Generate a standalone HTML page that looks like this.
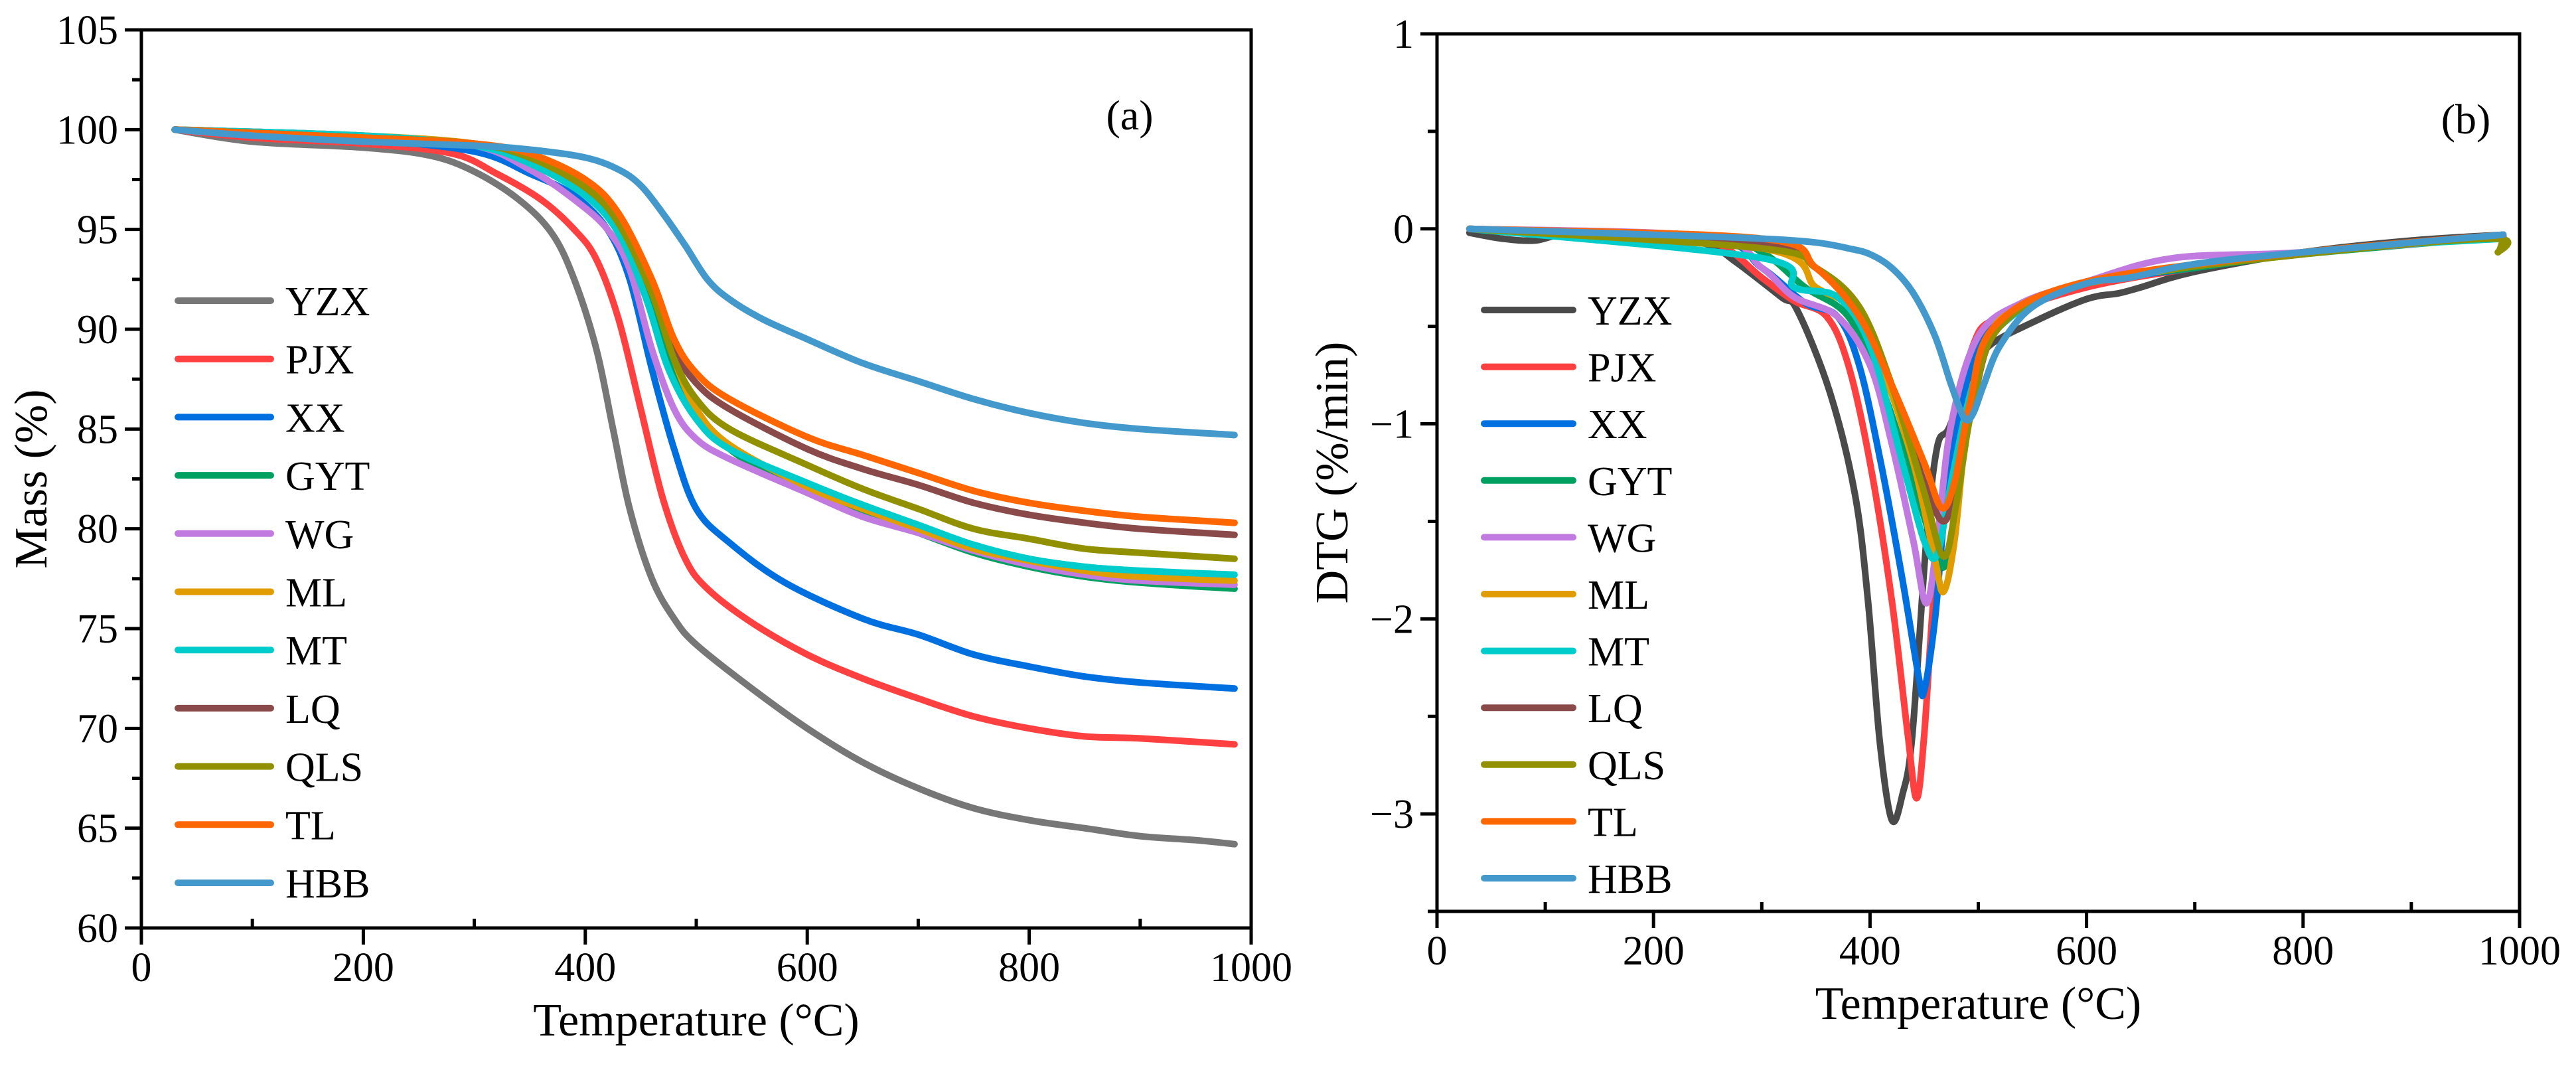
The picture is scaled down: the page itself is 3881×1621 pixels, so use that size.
<!DOCTYPE html>
<html><head><meta charset="utf-8"><style>
html,body{margin:0;padding:0;background:#fff;}
svg{display:block;font-family:"Liberation Serif",serif;}
</style></head><body>
<svg id="fig" width="3881" height="1621" viewBox="0 0 3881 1621" xmlns="http://www.w3.org/2000/svg"></svg>
<script>
const seriesNames = ["YZX","PJX","XX","GYT","WG","ML","MT","LQ","QLS","TL","HBB"];
const colorsA = ["#777777","#ff4040","#0070e0","#00a060","#c07ae0","#e09c00","#00cccc","#8b4a4a","#909000","#ff6600","#4499cc"];
const colorsB = ["#4a4a4a","#ff4040","#0070e0","#00a060","#c07ae0","#e09c00","#00cccc","#8b4a4a","#909000","#ff6600","#4499cc"];
const xTicks = [0,200,400,600,800,1000];
const yTicksA = [60,65,70,75,80,85,90,95,100,105];
const yTicksB = [-3,-2,-1,0,1];
// TGA temperatures / masses
const tgaT = [
[30,100,200,260,300,340,370,390,410,425,440,460,480,500,550,600,650,700,750,800,850,900,950,985],
[30,100,200,280,320,360,390,410,430,450,470,490,510,550,600,650,700,750,800,850,900,985],
[30,200,300,350,390,420,440,460,480,500,530,580,650,700,750,800,850,900,985],
[30,200,300,350,400,430,460,480,500,530,560,600,650,700,750,800,850,900,985],
[30,200,300,350,390,420,440,460,480,500,530,600,650,700,750,800,850,900,985],
[30,200,300,350,400,430,460,480,500,530,600,650,700,750,800,850,900,985],
[30,200,300,350,400,430,455,475,500,530,600,650,700,750,800,850,900,985],
[30,200,300,350,400,430,460,480,500,530,600,650,700,750,800,850,900,985],
[30,200,300,350,400,430,460,480,500,530,600,650,700,750,800,850,900,985],
[30,200,300,350,400,430,460,480,500,530,600,650,700,750,800,850,900,985],
[30,100,200,300,350,400,430,450,470,490,510,530,560,600,650,700,750,800,850,900,985]];
const tgaM = [
[100,99.4,99.1,98.7,97.9,96.5,94.8,92.5,89,85,81,77.5,75.5,74.2,72,70,68.3,67,66,65.4,65,64.6,64.4,64.2],
[100,99.6,99.3,98.8,97.8,96.5,95,93.5,90.5,86,81.5,78.5,77,75.3,73.7,72.5,71.5,70.6,70,69.6,69.5,69.2],
[100,99.5,98.9,97.8,96.7,95,92.5,88,84,81,79.3,77.3,75.5,74.7,73.7,73.1,72.6,72.3,72],
[100,99.7,99.2,98.4,96.9,95,91.5,88,85.8,84,83,82,80.8,79.8,78.8,78.1,77.6,77.3,77.0],
[100,99.7,99.2,98,96.5,95,93,89,86,84.5,83.5,81.8,80.6,79.8,78.9,78.2,77.7,77.4,77.2],
[100,99.7,99.3,98.5,97,95.5,92,88.5,86,84.2,82.1,81,80,79,78.4,77.9,77.6,77.4],
[100,99.7,99.2,98.3,96.7,94.8,91.5,88,85.5,84,82.3,81.2,80.2,79.2,78.5,78.1,77.9,77.7],
[100,99.6,99.3,98.6,97.2,95.5,92,89,87.3,86,84,83,82.2,81.3,80.7,80.3,80,79.7],
[100,99.6,99.3,98.6,97.1,95.3,91.8,88.5,86.5,85,83.2,82,81,80,79.5,79,78.8,78.5],
[100,99.6,99.3,98.8,97.5,95.8,92.5,89.5,87.8,86.5,84.6,83.7,82.8,81.9,81.3,80.9,80.6,80.3],
[100,99.7,99.4,99.2,99,98.6,98,97.2,95.8,94.2,92.5,91.5,90.5,89.5,88.3,87.4,86.5,85.8,85.3,85,84.7]];
// DTG temperatures / rates
const dtgT = [
[30,60,90,120,200,250,276,318,333,363,386,398,409,420,430,439,452,462,473,492,510,550,600,630,650,700,800,900,985],
[30,200,260,300,330,360,380,400,420,435,443,450,460,475,495,520,600,700,800,985],
[30,250,300,340,370,390,410,430,445,450,460,470,485,500,530,600,700,800,985],
[30,250,300,340,380,410,440,460,470,480,495,520,600,700,800,985],
[30,250,300,330,370,400,420,440,452,462,475,500,540,600,680,800,985],
[30,300,350,380,410,440,460,468,478,490,510,540,600,800,985],
[30,300,330,370,400,430,450,462,475,495,520,600,800,985],
[30,300,350,390,420,450,468,480,495,520,600,800,985],
[30,300,350,390,420,450,468,480,495,520,600,800,975,980,985],
[30,300,350,390,420,450,466,478,492,515,600,800,985],
[30,200,300,350,380,400,420,440,460,475,487,495,505,520,550,600,640,700,800,985]];
const dtgV = [
[-0.02,-0.05,-0.06,-0.03,-0.03,-0.08,-0.17,-0.35,-0.42,-0.84,-1.36,-1.9,-2.63,-3.03,-2.9,-2.6,-1.6,-1.12,-1.02,-0.75,-0.6,-0.48,-0.36,-0.33,-0.3,-0.22,-0.12,-0.06,-0.03],
[0,-0.03,-0.08,-0.25,-0.37,-0.45,-0.7,-1.2,-1.9,-2.6,-2.92,-2.6,-1.8,-1.1,-0.6,-0.45,-0.3,-0.2,-0.12,-0.03],
[0,-0.05,-0.2,-0.38,-0.45,-0.7,-1.2,-1.8,-2.3,-2.37,-2.0,-1.4,-0.9,-0.6,-0.42,-0.28,-0.2,-0.12,-0.03],
[0,-0.04,-0.12,-0.3,-0.45,-0.8,-1.3,-1.65,-1.72,-1.4,-0.9,-0.5,-0.28,-0.2,-0.13,-0.04],
[0,-0.04,-0.2,-0.35,-0.45,-0.7,-1.1,-1.6,-1.92,-1.6,-1.0,-0.55,-0.38,-0.27,-0.15,-0.12,-0.04],
[0,-0.1,-0.3,-0.4,-0.7,-1.2,-1.7,-1.86,-1.6,-1.0,-0.55,-0.4,-0.28,-0.12,-0.04],
[0,-0.15,-0.3,-0.35,-0.6,-1.2,-1.6,-1.67,-1.3,-0.8,-0.5,-0.28,-0.12,-0.05],
[0,-0.08,-0.2,-0.4,-0.8,-1.3,-1.5,-1.3,-0.9,-0.5,-0.28,-0.12,-0.04],
[0,-0.1,-0.2,-0.4,-0.8,-1.35,-1.68,-1.4,-0.9,-0.5,-0.28,-0.13,-0.05,-0.12,-0.05],
[0,-0.05,-0.2,-0.45,-0.8,-1.2,-1.43,-1.3,-0.9,-0.5,-0.27,-0.12,-0.03],
[0,-0.03,-0.05,-0.07,-0.1,-0.13,-0.2,-0.33,-0.55,-0.8,-0.97,-0.95,-0.8,-0.6,-0.4,-0.28,-0.25,-0.18,-0.12,-0.03]];

const NS="http://www.w3.org/2000/svg";
const svg=document.getElementById('fig');
function mk(tag,attrs,parent){const e=document.createElementNS(NS,tag);for(const k in attrs)e.setAttribute(k,attrs[k]);(parent||svg).appendChild(e);return e;}
function smoothPath(P){
  let d='M'+P[0][0].toFixed(1)+','+P[0][1].toFixed(1);
  for(let i=0;i<P.length-1;i++){
    const p0=P[Math.max(0,i-1)],p1=P[i],p2=P[i+1],p3=P[Math.min(P.length-1,i+2)];
    const c1x=p1[0]+(p2[0]-p0[0])/6,c1y=p1[1]+(p2[1]-p0[1])/6;
    const c2x=p2[0]-(p3[0]-p1[0])/6,c2y=p2[1]-(p3[1]-p1[1])/6;
    d+=` C${c1x.toFixed(1)},${c1y.toFixed(1)} ${c2x.toFixed(1)},${c2y.toFixed(1)} ${p2[0].toFixed(1)},${p2[1].toFixed(1)}`;
  }
  return d;
}

function panel(p){
  const g=mk('g',{});
  
  
  const sx=v=>p.x0+(v-0)/(1000)*(p.x1-p.x0);
  const sy=v=>p.y1-(v-p.ymin)/(p.ymax-p.ymin)*(p.y1-p.y0);
  for(let i=0;i<seriesNames.length;i++){
    const P=p.T[i].map((t,j)=>[sx(t),sy(p.V[i][j])]);
    const pl=mk('path',{d:smoothPath(P),fill:'none',stroke:p.colors[i],'stroke-width':10,'stroke-linejoin':'round','stroke-linecap':'round'},g);
    
    
  }
  const fr=mk('rect',{x:p.x0,y:p.y0,width:p.x1-p.x0,height:p.y1-p.y0,fill:'none',stroke:'#000','stroke-width':5},g);
  
  
  for(let v=0;v<=1000;v+=100){
    const major=v%200===0;
    mk('line',{x1:sx(v),x2:sx(v),y1:p.y1,y2:p.y1+(major?25:-14),stroke:'#000','stroke-width':5},g);
  }
  xTicks.forEach(v=>{
    const t=mk('text',{x:sx(v),y:p.y1+80,'font-size':62,'text-anchor':'middle'},g);
    t.textContent=v;
    
    
  });
  for(let v=p.ymin;v<=p.ymax+1e-9;v+=p.minor){
    const isMaj=Math.abs(Math.round(v/p.major)*p.major-v)<1e-6;
    mk('line',{x1:p.x0,x2:p.x0-(isMaj?25:14),y1:sy(v),y2:sy(v),stroke:'#000','stroke-width':5},g);
  }
  p.yTicks.forEach(v=>{
    const t=mk('text',{x:p.x0-35,y:sy(v)+21,'font-size':62,'text-anchor':'end'},g);
    t.textContent=v<0?'\u2212'+(-v):v;
    
    
  });
  const xt=mk('text',{x:(p.x0+p.x1)/2,y:p.y1+162,'font-size':70,'text-anchor':'middle'},g);
  xt.textContent='Temperature (\u00B0C)';
  
  
  const yt=mk('text',{x:0,y:0,'font-size':70,'text-anchor':'middle',transform:`translate(${p.ytx},${(p.y0+p.y1)/2}) rotate(-90)`},g);
  yt.textContent=p.ytitle;
  
  
  const lab=mk('text',{x:p.labx,y:p.y0+150,'font-size':64,'text-anchor':'middle'},g);
  lab.textContent=p.label;
  
  
  for(let i=0;i<seriesNames.length;i++){
    const y=p.legY+i*p.legStep;
    const lg=mk('g',{},g);
    
    
    mk('line',{x1:p.legX,x2:p.legX+p.legLen,y1:y,y2:y,stroke:p.colors[i],'stroke-width':10,'stroke-linecap':'round'},lg);
    const t=mk('text',{x:p.legX+p.legLen+22,y:y+22,'font-size':62},lg);
    t.textContent=seriesNames[i];
  }
}
panel({id:'tga',x0:213,x1:1885,y0:45,y1:1398,ymin:60,ymax:105,major:5,minor:2.5,yTicks:yTicksA,T:tgaT,V:tgaM,colors:colorsA,ytitle:'Mass (%)',ytx:70,label:'(a)',labx:1702,legX:268,legLen:140,legY:453,legStep:87.7});
panel({id:'dtg',x0:2165,x1:3796,y0:51,y1:1373,ymin:-3.5,ymax:1,major:1,minor:0.5,yTicks:yTicksB,T:dtgT,V:dtgV,colors:colorsB,ytitle:'DTG (%/min)',ytx:2030,label:'(b)',labx:3715,legX:2236,legLen:134,legY:467,legStep:85.6});
</script>
</body></html>
